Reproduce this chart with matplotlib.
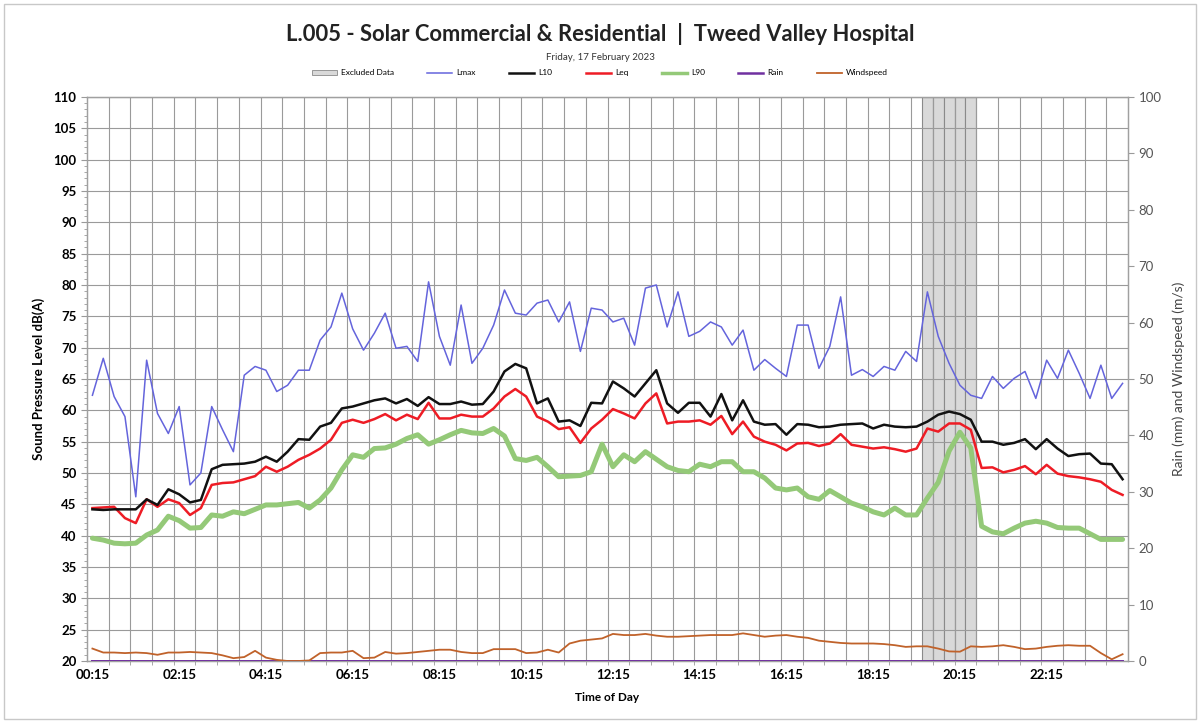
import matplotlib
matplotlib.use('Agg')
import matplotlib.pyplot as plt
from matplotlib.patches import Patch, Rectangle
from matplotlib.lines import Line2D
from matplotlib.ticker import MultipleLocator, FixedLocator
import numpy as np

plt.rcParams['font.family'] = ['Lato', 'DejaVu Sans']

# 15-minute intervals, 00:15 .. 24:00
times = ['%02d:%02d' % divmod(15 * (i + 1), 60) for i in range(96)]

lmax = [62.4, 68.3, 62.2, 59.0, 46.2, 68.0, 59.5, 56.3, 60.6, 48.1, 50.0, 60.6,
        56.9, 53.4, 65.6, 67.0, 66.4, 63.0, 64.0, 66.4, 66.4, 71.2, 73.3, 78.7,
        73.0, 69.6, 72.3, 75.5, 69.9, 70.2, 67.8, 80.5, 71.8, 67.2, 76.8, 67.5,
        69.9, 73.6, 79.2, 75.5, 75.2, 77.1, 77.6, 74.1, 77.3, 69.4, 76.3, 76.0,
        74.1, 74.7, 70.4, 79.5, 80.0, 73.3, 78.9, 71.8, 72.6, 74.1, 73.3, 70.4,
        72.8, 66.4, 68.1, 66.7, 65.4, 73.6, 73.6, 66.7, 70.2, 78.1, 65.6, 66.5,
        65.4, 67.0, 66.4, 69.4, 67.8, 78.9, 71.8, 67.5, 64.0, 62.4, 61.9, 65.4,
        63.5, 65.1, 66.2, 61.9, 68.0, 65.1, 69.6, 65.9, 61.9, 67.2, 61.9, 64.3]

l10 = [44.2, 44.1, 44.2, 44.2, 44.2, 45.8, 44.9, 47.4, 46.6, 45.3, 45.7, 50.6,
       51.3, 51.4, 51.5, 51.8, 52.6, 51.8, 53.4, 55.4, 55.3, 57.4, 58.0, 60.3,
       60.6, 61.1, 61.6, 61.9, 61.1, 61.8, 60.7, 62.1, 61.0, 61.0, 61.4, 60.9,
       61.0, 63.0, 66.2, 67.4, 66.7, 61.1, 61.9, 58.2, 58.4, 57.5, 61.2, 61.1,
       64.6, 63.5, 62.2, 64.3, 66.4, 61.1, 59.6, 61.2, 61.2, 59.0, 62.6, 58.4,
       61.6, 58.2, 57.7, 57.8, 56.1, 57.8, 57.7, 57.3, 57.4, 57.7, 57.8, 57.9,
       57.1, 57.7, 57.4, 57.3, 57.4, 58.2, 59.3, 59.8, 59.4, 58.5, 55.0, 55.0,
       54.5, 54.8, 55.4, 53.8, 55.4, 53.9, 52.7, 53.0, 53.1, 51.5, 51.4, 49.0]

leq = [44.4, 44.5, 44.6, 42.8, 42.0, 45.8, 44.6, 45.8, 45.2, 43.3, 44.4, 48.1,
       48.4, 48.5, 49.0, 49.5, 51.0, 50.2, 51.0, 52.1, 52.9, 53.9, 55.3, 58.0,
       58.5, 58.0, 58.6, 59.4, 58.4, 59.3, 58.6, 61.2, 58.7, 58.7, 59.3, 59.0,
       59.0, 60.3, 62.2, 63.4, 62.2, 59.0, 58.2, 57.0, 57.3, 54.8, 57.1, 58.5,
       60.2, 59.5, 58.7, 61.1, 62.7, 57.9, 58.2, 58.2, 58.4, 57.7, 59.1, 56.2,
       58.2, 55.8, 55.0, 54.5, 53.6, 54.7, 54.8, 54.3, 54.7, 56.2, 54.5, 54.2,
       53.9, 54.1, 53.8, 53.4, 53.9, 57.1, 56.6, 57.9, 57.9, 56.9, 50.8, 50.9,
       50.1, 50.5, 51.1, 49.8, 51.3, 49.9, 49.5, 49.3, 49.0, 48.6, 47.3, 46.5]

l90 = [39.6, 39.3, 38.8, 38.7, 38.8, 40.1, 40.9, 43.1, 42.4, 41.2, 41.3, 43.3,
       43.1, 43.8, 43.5, 44.2, 44.9, 44.9, 45.1, 45.3, 44.4, 45.7, 47.6, 50.5,
       52.9, 52.5, 53.9, 54.0, 54.6, 55.5, 56.1, 54.6, 55.3, 56.1, 56.8, 56.4,
       56.3, 57.1, 55.9, 52.3, 52.0, 52.5, 51.0, 49.4, 49.5, 49.6, 50.2, 54.6,
       51.0, 52.9, 51.8, 53.4, 52.2, 51.0, 50.4, 50.2, 51.4, 51.0, 51.8, 51.8,
       50.2, 50.2, 49.2, 47.6, 47.3, 47.6, 46.2, 45.8, 47.2, 46.2, 45.2, 44.6,
       43.8, 43.3, 44.4, 43.3, 43.3, 46.0, 48.5, 53.5, 56.5, 54.0, 41.5, 40.6,
       40.3, 41.2, 42.0, 42.3, 42.0, 41.3, 41.2, 41.2, 40.3, 39.4, 39.4, 39.4]

windspeed = [2.2, 1.5, 1.5, 1.4, 1.5, 1.4, 1.1, 1.5, 1.5, 1.6, 1.5, 1.4,
             1.0, 0.5, 0.7, 1.8, 0.6, 0.2, 0.0, 0.0, 0.1, 1.4, 1.5, 1.5,
             1.8, 0.5, 0.6, 1.6, 1.3, 1.4, 1.6, 1.8, 2.0, 2.0, 1.6, 1.4,
             1.4, 2.1, 2.1, 2.1, 1.4, 1.5, 2.0, 1.5, 3.1, 3.6, 3.8, 4.0,
             4.8, 4.6, 4.6, 4.8, 4.5, 4.3, 4.3, 4.4, 4.5, 4.6, 4.6, 4.6,
             4.9, 4.6, 4.3, 4.5, 4.6, 4.3, 4.1, 3.6, 3.4, 3.2, 3.1, 3.1,
             3.1, 3.0, 2.8, 2.5, 2.6, 2.6, 2.2, 1.7, 1.65, 2.6, 2.5, 2.6,
             2.8, 2.5, 2.1, 2.2, 2.5, 2.7, 2.8, 2.7, 2.7, 1.4, 0.3, 1.2]

rain = [0.0] * 96

# excluded periods (19:30 - 20:30)
excluded = ['19:30', '19:45', '20:00', '20:15', '20:30']

x = np.arange(len(times))
excl_idx = [times.index(t) for t in excluded]

fig = plt.figure(figsize=(12, 7.22), dpi=100)
fig.patches.append(Rectangle((0.003, 0.004), 0.994, 0.99, transform=fig.transFigure,
                             fill=False, edgecolor='#c8c8c8', linewidth=1.0))

ax = fig.add_axes([0.0725, 0.0845, 0.8675, 0.7812])
ax2 = ax.twinx()

grid_c = '#9a9a9a'
ax.set_axisbelow(True)
ax.bar(excl_idx, [90] * len(excl_idx), bottom=20, width=1.0, color='#d9d9d9',
       edgecolor='#8a8a8a', linewidth=0.8, zorder=0.3)

ax.plot(x, lmax, color='#6464dc', lw=1.1, zorder=3)
ax.plot(x, l90, color='#94c978', lw=3.6, zorder=3.1, solid_capstyle='round')
ax.plot(x, leq, color='#ee1c25', lw=1.8, zorder=3.2)
ax.plot(x, l10, color='#111111', lw=1.8, zorder=3.3)

ax2.plot(x, rain, color='#7030a0', lw=1.4, zorder=3)
ax2.plot(x, windspeed, color='#c0622a', lw=1.3, zorder=3)

ax.set_xlim(-0.5, 95.5)
ax.set_ylim(20, 110)
ax2.set_ylim(0, 100)

ax.yaxis.set_major_locator(MultipleLocator(5))
ax.yaxis.set_minor_locator(MultipleLocator(1))
ax2.yaxis.set_major_locator(MultipleLocator(10))

ax.set_xticks(x[::8])
ax.set_xticklabels(times[::8], fontsize=9.5, fontweight='bold')
ax.xaxis.set_minor_locator(FixedLocator(np.arange(1.5, 95, 2)))
ax.tick_params(axis='x', which='major', length=0, pad=6)
ax.tick_params(axis='x', which='minor', length=3, color=grid_c)
ax.tick_params(axis='y', which='major', labelsize=9.5, length=4, color=grid_c)
ax.tick_params(axis='y', which='minor', length=2, color=grid_c)
for lbl in ax.get_yticklabels():
    lbl.set_fontweight('bold')
ax2.tick_params(axis='y', labelsize=9.5, labelcolor='#555555', length=4, color=grid_c)

ax.grid(True, which='major', axis='y', color=grid_c, lw=0.8)
ax.grid(True, which='minor', axis='x', color=grid_c, lw=0.8)

for a in (ax, ax2):
    for s in a.spines.values():
        s.set_color('#a0a0a0')
        s.set_linewidth(0.9)

ax.set_ylabel('Sound Pressure Level dB(A)', fontsize=9.5, fontweight='bold', labelpad=6)
ax2.set_ylabel('Rain (mm) and Windspeed (m/s)', fontsize=10, color='#444444', labelpad=8)
ax.set_xlabel('Time of Day', fontsize=8.5, fontweight='bold', labelpad=8)

fig.text(0.5, 0.953, 'L.005 - Solar Commercial & Residential  |  Tweed Valley Hospital',
         ha='center', va='center', fontsize=15.8, fontweight='bold', color='#222222')
fig.text(0.5, 0.920, 'Friday, 17 February 2023', ha='center', va='center',
         fontsize=7, color='#333333')

handles = [
    Patch(facecolor='#d9d9d9', edgecolor='#8a8a8a', linewidth=0.6),
    Line2D([], [], color='#6464dc', lw=1.1),
    Line2D([], [], color='#111111', lw=1.8),
    Line2D([], [], color='#ee1c25', lw=1.8),
    Line2D([], [], color='#94c978', lw=2.5),
    Line2D([], [], color='#7030a0', lw=1.8),
    Line2D([], [], color='#c0622a', lw=1.3),
]
labels = ['Excluded Data', 'Lmax', 'L10', 'Leq', 'L90', 'Rain', 'Windspeed']
fig.legend(handles, labels, loc='center', bbox_to_anchor=(0.5, 0.899), ncol=7,
           frameon=False, fontsize=6, handlelength=3.0, columnspacing=4.0,
           handletextpad=0.5)

fig.savefig('out.png', dpi=100)
